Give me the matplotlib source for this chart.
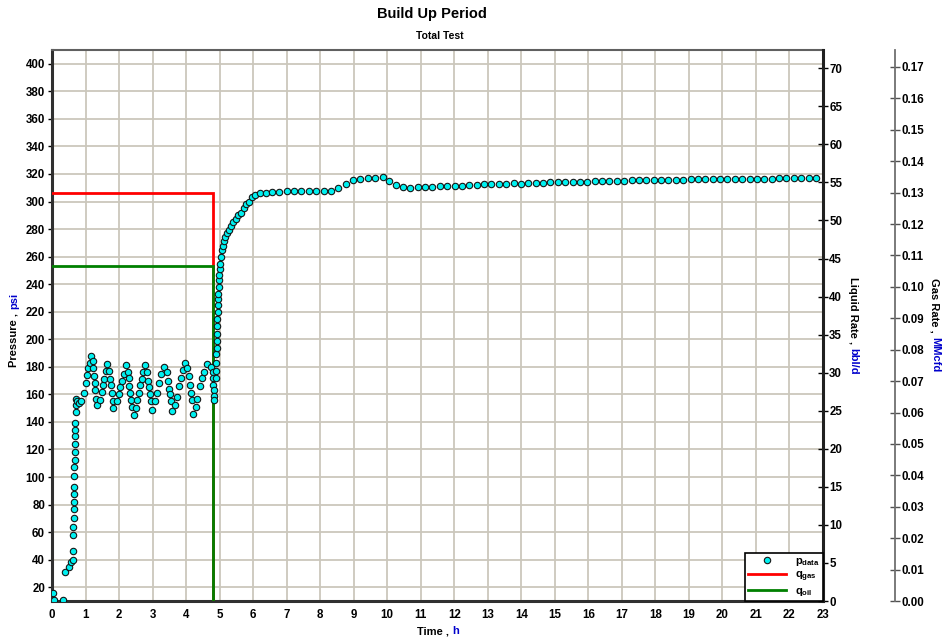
import matplotlib
matplotlib.use('Agg')
import matplotlib.pyplot as plt
from matplotlib.lines import Line2D

plt.rcParams['font.family'] = ['Liberation Sans', 'DejaVu Sans']
plt.rcParams['font.weight'] = 'bold'
plt.rcParams['mathtext.fontset'] = 'custom'
plt.rcParams['mathtext.rm'] = 'Liberation Sans:bold'
plt.rcParams['mathtext.it'] = 'Liberation Sans:bold'
plt.rcParams['mathtext.bf'] = 'Liberation Sans:bold'

# pressure gauge data (time in h, pressure in psi)
time_h = [
    0.03, 0.07, 0.32, 0.40, 0.51, 0.56, 0.63, 0.64, 0.63, 0.64,
    0.66, 0.66, 0.66, 0.67, 0.66, 0.67, 0.67, 0.68, 0.68, 0.69,
    0.69, 0.70, 0.70, 0.71, 0.72, 0.71, 0.76, 0.81, 0.88, 0.95,
    1.00, 1.05, 1.08, 1.12, 1.17, 1.21, 1.23, 1.25, 1.27, 1.28,
    1.32, 1.35, 1.43, 1.48, 1.52, 1.55, 1.60, 1.65, 1.71, 1.74,
    1.76, 1.79, 1.81, 1.83, 1.93, 1.99, 2.04, 2.09, 2.15, 2.21,
    2.26, 2.29, 2.31, 2.34, 2.36, 2.39, 2.44, 2.51, 2.55, 2.59,
    2.64, 2.69, 2.72, 2.77, 2.83, 2.86, 2.89, 2.92, 2.94, 2.97,
    3.08, 3.14, 3.19, 3.24, 3.34, 3.42, 3.46, 3.49, 3.52, 3.54,
    3.57, 3.68, 3.74, 3.79, 3.84, 3.91, 3.98, 4.04, 4.08, 4.13,
    4.16, 4.19, 4.22, 4.29, 4.34, 4.41, 4.48, 4.54, 4.61, 4.75,
    4.79, 4.81, 4.80, 4.82, 4.83, 4.84, 4.88, 4.89, 4.90, 4.90,
    4.91, 4.91, 4.92, 4.92, 4.93, 4.94, 4.94, 4.95, 4.96, 4.97,
    4.98, 4.99, 5.00, 5.02, 5.04, 5.06, 5.09, 5.13, 5.17, 5.22,
    5.28, 5.34, 5.41, 5.49, 5.56, 5.64, 5.72, 5.80, 5.88, 5.97,
    6.07, 6.20, 6.38, 6.57, 6.78, 7.00, 7.22, 7.44, 7.66, 7.88,
    8.10, 8.32, 8.54, 8.76, 8.98, 9.20, 9.42, 9.64, 9.86, 10.06,
    10.26, 10.47, 10.69, 10.91, 11.13, 11.35, 11.57, 11.79, 12.01, 12.23,
    12.45, 12.67, 12.89, 13.11, 13.33, 13.55, 13.77, 13.99, 14.21, 14.43,
    14.65, 14.87, 15.09, 15.31, 15.53, 15.75, 15.97, 16.19, 16.41, 16.63,
    16.85, 17.07, 17.29, 17.51, 17.73, 17.95, 18.17, 18.39, 18.61, 18.83,
    19.05, 19.27, 19.49, 19.71, 19.93, 20.15, 20.37, 20.59, 20.81, 21.03,
    21.25, 21.47, 21.69, 21.91, 22.13, 22.35, 22.57, 22.79,
]
pressure_psi = [
    16, 11, 11, 31, 35, 38, 40, 46, 58, 64,
    70, 77, 82, 88, 93, 101, 107, 112, 118, 124,
    130, 134, 139, 147, 152, 157, 155, 154, 155, 161,
    168, 174, 179, 183, 188, 184, 179, 173, 168, 163,
    157, 152, 156, 162, 167, 171, 177, 182, 177, 171,
    167, 161, 155, 150, 155, 160, 165, 170, 175, 181,
    176, 172, 166, 161, 156, 151, 145, 150, 156, 161,
    167, 171, 176, 181, 176, 170, 165, 160, 155, 149,
    155, 161, 168, 175, 180, 176, 170, 164, 160, 155,
    148, 152, 158, 166, 172, 178, 183, 179, 173, 167,
    161, 156, 146, 151, 157, 166, 172, 176, 182, 180,
    176, 172, 167, 163, 159, 156, 172, 177, 183, 189,
    194, 199, 204, 210, 215, 220, 225, 229, 233, 238,
    243, 247, 251, 255, 260, 265, 268, 271, 274, 277,
    279, 282, 285, 287, 290, 292, 295, 298, 300, 303,
    305, 306, 306.5, 307, 307, 307.5, 307.5, 307.5, 307.5, 307.8,
    307.8, 307.5, 310, 313, 315.5, 316.3, 316.8, 316.8, 317.8, 315,
    312, 310.5, 309.9, 310.5, 310.7, 310.7, 311.3, 311.0, 311.5, 311.6,
    312.0, 312.3, 312.6, 312.4, 312.8, 312.9, 313.2, 313.0, 313.5, 313.6,
    313.4, 314.0, 314.1, 314.0, 314.3, 314.5, 314.4, 314.8, 314.7, 314.9,
    315.1, 315.0, 315.3, 315.3, 315.4, 315.6, 315.5, 315.7, 315.8, 315.8,
    316.2, 316.1, 316.2, 316.3, 316.3, 316.4, 316.5, 316.5, 316.6, 316.6,
    316.7, 316.7, 316.8, 316.8, 316.9, 316.9, 317.0, 317.1,
]

# rate history (step, shut-in at 4.8 h)
rate_time = [0, 4.8, 4.8]
q_gas = [0.13, 0.13, 0]      # MMcfd
q_oil = [44, 44, 0]          # bbl/d

W, H = 942, 638
fig = plt.figure(figsize=(W / 100, H / 100), dpi=100)
L, R, T, B = 52, 823, 50, 601
rect = [L / W, 1 - B / H, (R - L) / W, (B - T) / H]

ax = fig.add_axes(rect)
ax_gas = ax.twinx()
ax_liq = ax.twinx()
ax_pts = fig.add_axes(rect, sharex=ax, sharey=ax)
ax_pts.set_axis_off()

grid_c = '#cbc7bc'
ax.set_xlim(0, 23)
ax.set_ylim(10, 410)
ax.set_xticks(range(0, 24))
ax.set_yticks(range(20, 401, 20))
ax.grid(True, color=grid_c, linewidth=1.3)
ax.set_axisbelow(True)
ax.tick_params(axis='both', labelsize=8.3, length=3, width=1, pad=2)
ax.tick_params(axis='x', length=0, pad=6)
for s in ['left', 'bottom']:
    ax.spines[s].set_linewidth(2.2)
    ax.spines[s].set_color('#303030')
ax.spines['top'].set_linewidth(1.5)
ax.spines['top'].set_color('#606060')
ax.spines['right'].set_visible(False)

# liquid rate axis
ax_liq.set_ylim(0, 72.4)
ax_liq.set_yticks(range(0, 71, 5))
ax_liq.tick_params(axis='y', direction='inout', length=7, width=1, labelsize=8.3, pad=1)
ax_liq.spines['right'].set_linewidth(2.2)
ax_liq.spines['right'].set_color('#202020')
for s in ['left', 'top', 'bottom']:
    ax_liq.spines[s].set_visible(False)
ax_liq.plot(rate_time, q_oil, color='#008000', linewidth=2, solid_joinstyle='miter')

# gas rate axis
ax_gas.set_ylim(0, 0.1754)
ax_gas.set_yticks([i / 100 for i in range(0, 18)])
ax_gas.set_yticklabels([f'{i / 100:.2f}' for i in range(0, 18)])
ax_gas.spines['right'].set_position(('axes', 1 + 72 / (R - L)))
ax_gas.spines['right'].set_color('#707070')
ax_gas.spines['right'].set_linewidth(1.3)
for s in ['left', 'top', 'bottom']:
    ax_gas.spines[s].set_visible(False)
ax_gas.tick_params(axis='y', direction='inout', length=7, width=1, color='#505050', labelsize=8.3, pad=1)
ax_gas.plot(rate_time, q_gas, color='#ff0000', linewidth=2, solid_joinstyle='miter')

# pressure points on top
mk = dict(linestyle='none', marker='o', markersize=4.6, markerfacecolor='#00f0f0',
          markeredgecolor='#151515', markeredgewidth=0.8)
ax_pts.plot(time_h, pressure_psi, **mk)

handles = [
    Line2D([], [], **mk),
    Line2D([], [], color='#ff0000', linewidth=2),
    Line2D([], [], color='#008000', linewidth=2),
]
labels = [r'$\mathrm{p_{data}}$', r'$\mathrm{q_{gas}}$', r'$\mathrm{q_{oil}}$']
leg = ax_pts.legend(handles, labels, loc='lower right', fontsize=8, frameon=True,
                    fancybox=False, framealpha=1, edgecolor='black', borderpad=0.3,
                    handlelength=3.4, labelspacing=0.15, handletextpad=0.8,
                    borderaxespad=0)
leg.get_frame().set_linewidth(1.2)

# titles
fig.text(432 / W, 1 - 14 / H, 'Build Up Period', ha='center', va='center', fontsize=10.5)
fig.text(440 / W, 1 - 36 / H, 'Total Test', ha='center', va='center', fontsize=7.5)

blue = '#0000cc'
renderer = fig.canvas.get_renderer()


def two_tone(cx, cy, parts, rot, size=8):
    # place several coloured pieces of text next to each other, centred on (cx, cy) in pixels
    texts = [fig.text(0, 0, s, color=c, fontsize=size, rotation=rot) for s, c in parts]
    ext = [t.get_window_extent(renderer) for t in texts]
    if rot == 0:
        sizes = [e.width for e in ext]
    else:
        sizes = [e.height for e in ext]
    gap = 4
    total = sum(sizes) + gap * (len(parts) - 1)
    if rot == 0:
        pos = cx - total / 2
        for t, s in zip(texts, sizes):
            t.set_position((pos / W, 1 - cy / H))
            t.set_ha('left')
            t.set_va('center')
            pos += s + gap
    elif rot == 90:
        pos = (H - cy) - total / 2
        for t, s in zip(texts, sizes):
            t.set_position((cx / W, pos / H))
            t.set_ha('center')
            t.set_va('bottom')
            pos += s + gap
    else:
        pos = (H - cy) + total / 2
        for t, s in zip(texts, sizes):
            t.set_position((cx / W, pos / H))
            t.set_ha('center')
            t.set_va('top')
            pos -= s + gap


two_tone(438, 631, [('Time ,', 'black'), ('h', blue)], 0)
two_tone(14, 330, [('Pressure ,', 'black'), ('psi', blue)], 90)
two_tone(853, 326, [('Liquid Rate ,', 'black'), ('bbl/d', blue)], -90)
two_tone(935, 325, [('Gas Rate ,', 'black'), ('MMcfd', blue)], -90)

fig.savefig('out.png', dpi=100)
